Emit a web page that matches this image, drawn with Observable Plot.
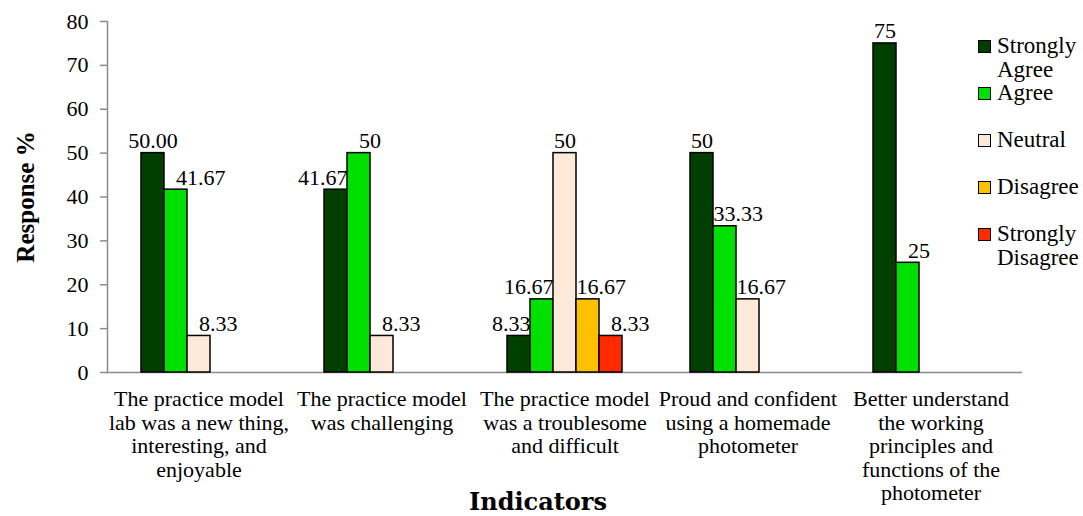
<!DOCTYPE html>
<html>
<head>
<meta charset="utf-8">
<script src="https://cdn.jsdelivr.net/npm/d3@7"></script>
<script src="https://cdn.jsdelivr.net/npm/@observablehq/plot@0.6"></script>
<style>
  body { margin: 0; background: #fff; }
  #wrap { position: relative; width: 1083px; height: 516px; font-family: 'Liberation Serif', serif; }
  #legend { position: absolute; left: 978px; top: 34px; }
  .item { height: 47px; display: flex; align-items: flex-start; }
  .sw { width: 11px; height: 11px; border: 1px solid #000; margin-top: 6px; margin-right: 6px; flex: none; }
  .lab { font-size: 23px; line-height: 24px; width: 95px; color: #000; font-family: 'Liberation Serif', serif; }
</style>
</head>
<body>
<div id="wrap"><div id="legend"></div></div>
<script>
const indicators = [
  "The practice model\nlab was a new thing,\ninteresting, and\nenjoyable",
  "The practice model\nwas challenging",
  "The practice model\nwas a troublesome\nand difficult",
  "Proud and confident\nusing a homemade\nphotometer",
  "Better understand\nthe working\nprinciples and\nfunctions of the\nphotometer"
];
const categories = ["Strongly Agree", "Agree", "Neutral", "Disagree", "Strongly Disagree"];
const colors = ["#013f01", "#00e000", "#fde9d9", "#ffc000", "#ff2a00"];

const stronglyAgree    = [50, 41.67, 8.33, 50, 75];
const agree            = [41.67, 50, 16.67, 33.33, 25];
const neutral          = [8.33, 8.33, 50, 16.67, null];
const disagree         = [null, null, 16.67, null, null];
const stronglyDisagree = [null, null, 8.33, null, null];

const saLabels = ["50.00", "41.67", "8.33", "50", "75"];
const aLabels  = ["41.67", "50", "16.67", "33.33", "25"];
const nLabels  = ["8.33", "8.33", "50", "16.67", null];
const dLabels  = [null, null, "16.67", null, null];
const sdLabels = [null, null, "8.33", null, null];

// label alignment: m = centred, s = starts at bar centre, e = ends at bar right edge, l = starts at bar left edge
const saAlign = ["m", "e", "e", "m", "m"];
const aAlign  = ["s", "s", "e", "l", "s"];
const nAlign  = ["s", "s", "m", "l", null];
const dAlign  = [null, null, "l", null, null];
const sdAlign = [null, null, "s", null, null];

const series = [
  [stronglyAgree, saLabels, saAlign],
  [agree, aLabels, aAlign],
  [neutral, nLabels, nAlign],
  [disagree, dLabels, dAlign],
  [stronglyDisagree, sdLabels, sdAlign]
];

const data = [];
series.forEach(([vals, labs, aligns], ci) => {
  vals.forEach((v, gi) => {
    if (v != null) data.push({indicator: indicators[gi], category: categories[ci], value: v, label: labs[gi], align: aligns[gi]});
  });
});

const font = "'Liberation Serif', serif";
const half = 11.5;
const textBase = {fx: "indicator", x: "category", y: "value", text: "label", lineAnchor: "bottom", dy: -5, fontSize: 22, fill: "#000", fontFamily: font};

const chart = Plot.plot({
  width: 1083,
  height: 516,
  marginLeft: 107,
  marginRight: 61,
  marginTop: 21,
  marginBottom: 144,
  style: {fontFamily: font, fontSize: "22px", color: "#000", background: "#fff"},
  fx: {domain: indicators, padding: 0},
  x: {domain: categories, paddingInner: 0, paddingOuter: 1.478, axis: null},
  y: {domain: [0, 80]},
  color: {domain: categories, range: colors},
  marks: [
    Plot.ruleY([0], {stroke: "#8c8c8c", strokeWidth: 1.5}),
    Plot.frame({anchor: "left", stroke: "#8c8c8c", strokeWidth: 1.5, facetAnchor: "left"}),
    Plot.axisY({ticks: 8, tickSize: 7, tickPadding: 12, stroke: "#8c8c8c", strokeWidth: 1.5, fill: "#000", fontFamily: font,
      label: "Response %", labelAnchor: "center", labelArrow: "none", labelOffset: 91}),
    Plot.axisFx({anchor: "bottom", tickSize: 0, tickPadding: 17, fill: "#000", lineHeight: 1.07, fontFamily: font,
      label: "Indicators", labelAnchor: "center", labelArrow: "none", labelOffset: 137}),
    Plot.barY(data, {fx: "indicator", x: "category", y: "value", fill: "category", stroke: "#000", strokeWidth: 1.5}),
    Plot.text(data.filter(d => d.align === "m"), {...textBase, textAnchor: "middle"}),
    Plot.text(data.filter(d => d.align === "s"), {...textBase, textAnchor: "start"}),
    Plot.text(data.filter(d => d.align === "e"), {...textBase, textAnchor: "end", dx: half}),
    Plot.text(data.filter(d => d.align === "l"), {...textBase, textAnchor: "start", dx: -half})
  ]
});

d3.select(chart).selectAll('g[aria-label="y-axis label"] text')
  .style("font-weight", "bold").style("font-size", "25px").style("font-family", font);
d3.select(chart).selectAll('g[aria-label="fx-axis label"]')
  .attr("transform", function() { return (this.getAttribute("transform") || "") + " translate(-27,0)"; });
d3.select(chart).selectAll('g[aria-label="fx-axis label"] text')
  .style("font-weight", "bold").style("font-size", "24px").style("font-family", "'DejaVu Serif', serif");

const wrap = document.getElementById("wrap");
wrap.insertBefore(chart, wrap.firstChild);

const legend = d3.select("#legend");
categories.forEach((c, i) => {
  const it = legend.append("div").attr("class", "item");
  it.append("div").attr("class", "sw").style("background", colors[i]);
  it.append("div").attr("class", "lab").style("font-family", font).text(c);
});
</script>
</body>
</html>
